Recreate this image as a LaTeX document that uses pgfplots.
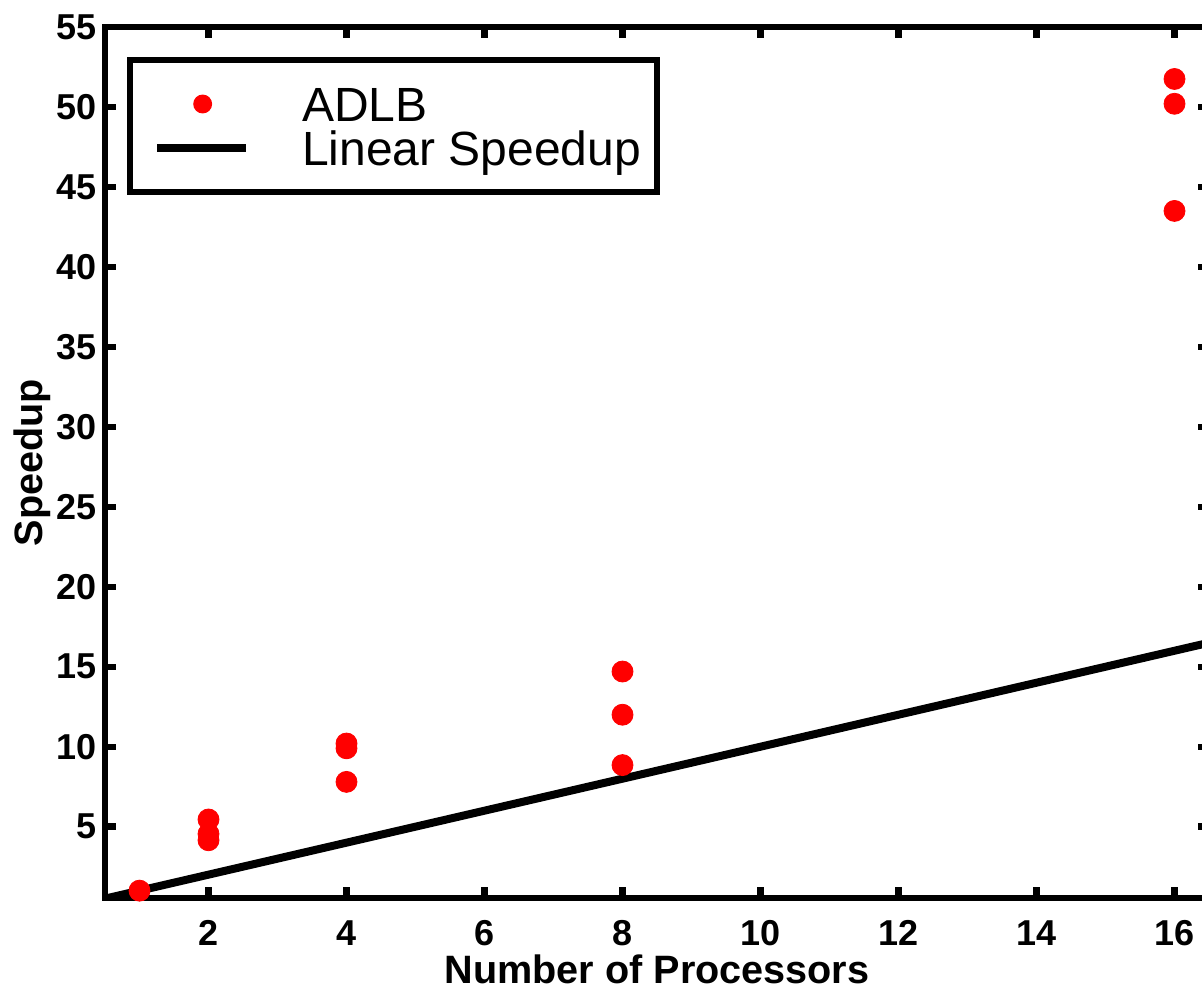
\documentclass[border=0pt]{standalone}
\usepackage{pgfplots}
\pgfplotsset{compat=1.18}
\usepackage{fontspec}
\setmainfont{Liberation Sans}
\begin{document}
\begin{tikzpicture}
\begin{axis}[
  scale only axis,
  width=552pt, height=435.5pt,
  xmin=0.5, xmax=16.5, ymin=0.54, ymax=55,
  xtick={2,4,...,16}, ytick={5,10,...,55},
  axis line style={line width=3.3pt},
  every tick/.style={black, line width=3.2pt},
  major tick length=5.5pt,
  tick align=inside,
  /pgf/number format/assume math mode=true,
  tick label style={font=\bfseries\fontsize{18}{20}\selectfont},
  xticklabel style={anchor=base, inner sep=0pt, yshift=-23.5pt},
  yticklabel style={anchor=east, inner sep=0pt, xshift=-4pt},
  label style={font=\bfseries\fontsize{19.8}{22}\selectfont, inner sep=0pt},
  xlabel={Number of Processors},
  ylabel={Speedup},
  xlabel style={at={(axis description cs:0.5,-0.0976)}, anchor=base},
  ylabel style={at={(axis description cs:-0.0562,0.5)}, anchor=base},
  legend style={at={(0.0227,0.9621)}, anchor=north west, draw=black, line width=3pt,
    outer sep=0pt, inner xsep=8pt, inner ysep=11pt, row sep=0pt, column sep=24.5pt,
    font=\fontsize{24}{22}\selectfont,
    nodes={inner sep=0pt, text height=19.7pt, text depth=2.3pt}},
  legend cell align=left,
]
\addplot[only marks, mark=*, mark size=5.25pt, color=red,
  legend image code/.code={\path (0pt,0pt) (49.5pt,0pt);\fill[red] (26.3pt,0pt) circle (3.2pt);}]
  coordinates {(1,1.0) (2,5.45) (2,4.55) (2,4.15) (4,10.2) (4,9.9) (4,7.8)
  (8,14.7) (8,12.0) (8,8.85) (16,51.75) (16,50.2) (16,43.5)};
\addlegendentry{ADLB}
\addplot[black, line width=4pt,
  legend image code/.code={\path (0pt,0pt) (49.5pt,0pt);\draw[black, line width=4pt] (3.5pt,0pt) -- (48pt,0pt);}]
  coordinates {(0.5,0.5) (16.5,16.5)};
\addlegendentry{Linear Speedup}
\end{axis}
\pgfresetboundingbox
\path[use as bounding box] ([xshift=-52.5pt,yshift=-46pt]current axis.south west) rectangle ([xshift=-3.5pt,yshift=13.5pt]current axis.north east);
\end{tikzpicture}
\end{document}
